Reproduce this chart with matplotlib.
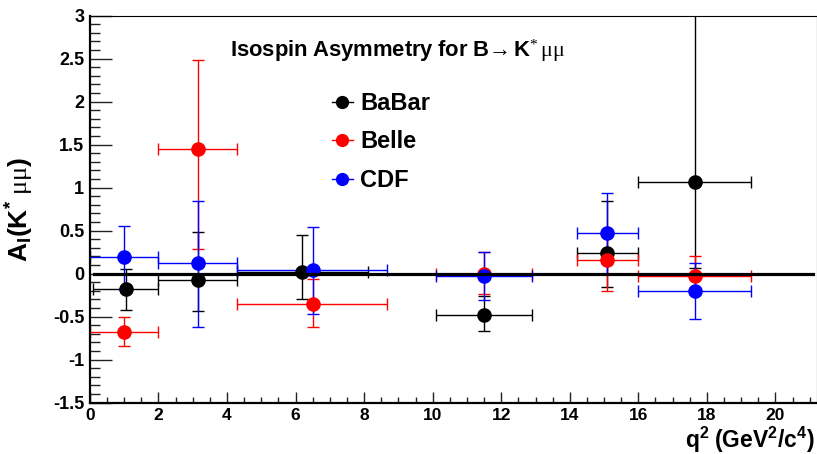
import matplotlib
matplotlib.use('Agg')
import matplotlib.pyplot as plt
from matplotlib.lines import Line2D
from matplotlib.ticker import MultipleLocator, FormatStrFormatter

plt.rcParams['font.family'] = ['Liberation Sans', 'DejaVu Sans']
plt.rcParams['mathtext.fontset'] = 'custom'
plt.rcParams['mathtext.bf'] = 'Liberation Sans:bold'
plt.rcParams['mathtext.rm'] = 'Liberation Serif'
plt.rcParams['mathtext.it'] = 'Liberation Serif:italic'

# q^2 bins: centre, lower edge, upper edge
babar_x = [1.05, 3.16, 6.2, 11.5, 15.1, 17.65]
babar_lo = [0.1, 2.0, 4.3, 10.1, 14.2, 16.0]
babar_hi = [2.0, 4.3, 8.12, 12.9, 16.0, 19.3]
babar_y = [-0.18, -0.07, 0.02, -0.48, 0.24, 1.07]
babar_em = [0.24, 0.36, 0.32, 0.19, 0.39, 1.0]
babar_ep = [0.24, 0.56, 0.43, 0.22, 0.61, 2.3]

belle_x = [1.01, 3.16, 6.5, 11.5, 15.1, 17.65]
belle_lo = [0.0, 2.0, 4.3, 10.1, 14.2, 16.0]
belle_hi = [2.0, 4.3, 8.68, 12.9, 16.0, 19.3]
belle_y = [-0.68, 1.45, -0.35, 0.0, 0.16, -0.03]
belle_em = [0.16, 1.16, 0.27, 0.24, 0.36, 0.2]
belle_ep = [0.18, 1.04, 0.29, 0.25, 0.3, 0.23]

cdf_x = [1.01, 3.16, 6.5, 11.5, 15.1, 17.65]
cdf_lo = [0.0, 2.0, 4.3, 10.1, 14.2, 16.0]
cdf_hi = [2.0, 4.3, 8.68, 12.9, 16.0, 19.3]
cdf_y = [0.19, 0.12, 0.04, -0.03, 0.47, -0.2]
cdf_em = [0.37, 0.74, 0.51, 0.28, 0.47, 0.33]
cdf_ep = [0.37, 0.72, 0.50, 0.28, 0.47, 0.33]

fig = plt.figure(figsize=(8.17, 4.54), dpi=100)
ax = fig.add_axes([0.110, 0.113, 0.8895, 0.8525])

series = [
    ('BaBar', 'black', babar_x, babar_lo, babar_hi, babar_y, babar_em, babar_ep),
    ('Belle', '#ff0000', belle_x, belle_lo, belle_hi, belle_y, belle_em, belle_ep),
    ('CDF', '#0000ff', cdf_x, cdf_lo, cdf_hi, cdf_y, cdf_em, cdf_ep),
]

handles = []
for name, col, x, lo, hi, y, em, ep in series:
    xm = [c - l for c, l in zip(x, lo)]
    xp = [h - c for c, h in zip(x, hi)]
    ax.errorbar(x, y, xerr=[xm, xp], yerr=[em, ep], fmt='o', color=col,
                ms=9.5, elinewidth=1, capsize=4, capthick=1)
    handles.append(Line2D([], [], color=col, marker='o', ms=8.5, lw=1))

ax.plot([0.12, 21.1], [0, 0], color='black', lw=2.3, zorder=5)

ax.set_xlim(0, 21.2)
ax.set_ylim(-1.5, 3)
ax.xaxis.set_major_locator(MultipleLocator(2))
ax.xaxis.set_minor_locator(MultipleLocator(0.5))
ax.yaxis.set_major_locator(MultipleLocator(0.5))
ax.yaxis.set_minor_locator(MultipleLocator(0.1))
ax.yaxis.set_major_formatter(FormatStrFormatter('%g'))
ax.tick_params(axis='both', which='both', direction='in', labelsize=13,
               width=1, color='#222222')
ax.tick_params(axis='y', which='major', length=15.5, pad=4)
ax.tick_params(axis='y', which='minor', length=7.2)
ax.tick_params(axis='x', which='major', length=8, pad=4, labelsize=12.5)
ax.tick_params(axis='x', which='minor', length=4.3)
for lab in ax.get_xticklabels() + ax.get_yticklabels():
    lab.set_fontweight('bold')

ax.spines['left'].set_linewidth(1.6)
ax.spines['bottom'].set_linewidth(1.6)
ax.spines['top'].set_linewidth(0.8)
ax.spines['right'].set_linewidth(0.8)

ax.set_xlabel(r'$\mathbf{q^{2}\ (GeV^{2}/c^{4})}$', fontsize=16.5, ha='right')
ax.xaxis.set_label_coords(0.997, -0.057)
ax.set_ylabel(r'$\mathbf{A_{I}(K^{*}}\ \mathrm{\mu\mu}\mathbf{)}$', fontsize=19)
ax.yaxis.set_label_coords(-0.074, 0.5)

ax.text(4.1, 2.59, r'$\mathbf{Isospin\ Asymmetry\ for\ B}\!\rightarrow\mathbf{K}^{*}\,\mathrm{\mu\mu}$',
        fontsize=15.8, va='center', ha='left')

ax.legend(handles, ['BaBar', 'Belle', 'CDF'], loc='upper left',
          bbox_to_anchor=(0.3327, 0.803), frameon=False, handlelength=0.9,
          handletextpad=0.3, labelspacing=0.66, borderpad=0, borderaxespad=0,
          prop={'weight': 'bold', 'size': 17})

fig.savefig('out.png', dpi=100)
